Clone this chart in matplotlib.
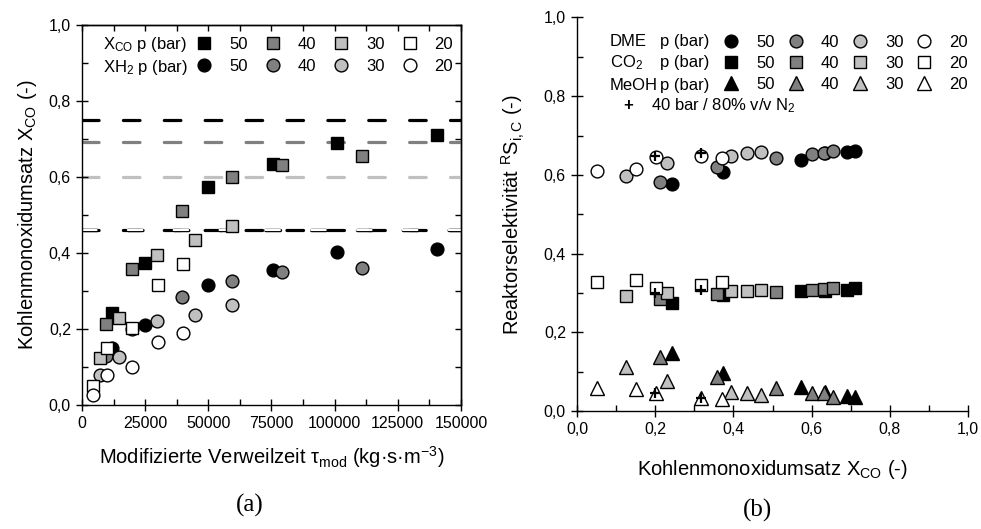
import matplotlib
matplotlib.use("Agg")
import matplotlib.pyplot as plt
import matplotlib.patheffects as pe
from matplotlib.lines import Line2D
from matplotlib.ticker import MultipleLocator, FuncFormatter

plt.rcParams.update({
    "font.family": ["Liberation Sans", "DejaVu Sans"],
    "mathtext.fontset": "custom",
    "mathtext.rm": "Liberation Sans",
    "mathtext.it": "Liberation Sans:italic",
    "mathtext.bf": "Liberation Sans:bold",
    "mathtext.default": "regular",
    "font.size": 11.5,
    "axes.linewidth": 1.0,
})

# ---------------- data ----------------
pressures = [50, 40, 30, 20]
fills = ["#000000", "#808080", "#c0c0c0", "#ffffff"]

# modified residence time (kg s m^-3)
tau_50 = [12000, 25000, 50000, 75600, 101000, 140500]
tau_40 = [9500, 19800, 39600, 59400, 79100, 110800]
tau_30 = [7100, 14600, 29600, 44700, 59400]
tau_20 = [4400, 9800, 19800, 30000, 40000]

# CO conversion
xco_50 = [0.242, 0.373, 0.574, 0.634, 0.690, 0.710]
xco_40 = [0.213, 0.358, 0.510, 0.600, 0.632, 0.655]
xco_30 = [0.124, 0.229, 0.395, 0.434, 0.471]
xco_20 = [0.050, 0.150, 0.203, 0.316, 0.370]

# H2 conversion
xh2_50 = [0.150, 0.210, 0.316, 0.355, 0.403, 0.410]
xh2_40 = [0.130, 0.200, 0.285, 0.326, 0.350, 0.360]
xh2_30 = [0.079, 0.127, 0.220, 0.237, 0.263]
xh2_20 = [0.026, 0.079, 0.100, 0.166, 0.190]

# equilibrium CO conversion
xco_eq = [0.75, 0.692, 0.60, 0.46]
eq_colors = ["#000000", "#808080", "#c0c0c0", "#000000"]

# reactor selectivities
dme_50 = [0.577, 0.607, 0.638, 0.655, 0.657, 0.660]
dme_40 = [0.582, 0.620, 0.643, 0.652, 0.656, 0.660]
dme_30 = [0.597, 0.630, 0.648, 0.656, 0.658]
dme_20 = [0.610, 0.615, 0.646, 0.648, 0.643]

co2_50 = [0.275, 0.295, 0.305, 0.305, 0.308, 0.313]
co2_40 = [0.285, 0.297, 0.302, 0.307, 0.310, 0.312]
co2_30 = [0.292, 0.300, 0.305, 0.305, 0.307]
co2_20 = [0.328, 0.333, 0.313, 0.320, 0.328]

meoh_50 = [0.147, 0.097, 0.060, 0.049, 0.038, 0.035]
meoh_40 = [0.137, 0.086, 0.058, 0.045, 0.046, 0.036]
meoh_30 = [0.112, 0.076, 0.048, 0.046, 0.041]
meoh_20 = [0.058, 0.056, 0.046, 0.033, 0.030]

# 40 bar with 80 % v/v N2
xco_n2 = [0.199, 0.316]
dme_n2 = [0.648, 0.656]
co2_n2 = [0.300, 0.307]
meoh_n2 = [0.046, 0.034]

taus = [tau_50, tau_40, tau_30, tau_20]
xcos = [xco_50, xco_40, xco_30, xco_20]
xh2s = [xh2_50, xh2_40, xh2_30, xh2_20]
dmes = [dme_50, dme_40, dme_30, dme_20]
co2s = [co2_50, co2_40, co2_30, co2_20]
meohs = [meoh_50, meoh_40, meoh_30, meoh_20]

MS = 9.2
MEW = 1.0
comma = FuncFormatter(lambda v, p: f"{v:.1f}".replace(".", ","))

fig = plt.figure(figsize=(9.81, 5.29), dpi=100)
axa = fig.add_axes([0.0836, 0.2344, 0.3863, 0.7183])
axb = fig.add_axes([0.5882, 0.2231, 0.3986, 0.7439])

# ---------------- panel (a) ----------------
dash_kw = dict(lw=2.3, dashes=(5.2, 7.6), dash_capstyle="round", zorder=1)
for y, c in zip(xco_eq[:3], eq_colors[:3]):
    axa.axhline(y, color=c, **dash_kw)
axa.axhline(xco_eq[3], color="#000000", **dash_kw)
axa.axhline(xco_eq[3], color="#ffffff", lw=1.5, dashes=(7.0, 15.0),
            dash_capstyle="round", zorder=1.5,
            path_effects=[pe.Stroke(linewidth=2.5, foreground="black"), pe.Normal()])

for t, xc, xh, f in zip(taus, xcos, xh2s, fills):
    axa.plot(t, xc, ls="none", marker="s", ms=MS * 0.95, mfc=f, mec="black",
             mew=MEW, zorder=3)
    axa.plot(t, xh, ls="none", marker="o", ms=MS, mfc=f, mec="black",
             mew=MEW, zorder=3)

axa.set_xlim(0, 150000)
axa.set_ylim(0, 1.0)
axa.xaxis.set_major_locator(MultipleLocator(25000))
axa.xaxis.set_minor_locator(MultipleLocator(12500))
axa.yaxis.set_major_locator(MultipleLocator(0.2))
axa.yaxis.set_minor_locator(MultipleLocator(0.1))
axa.yaxis.set_major_formatter(comma)
axa.tick_params(which="major", direction="inout", length=9, width=1.0)
axa.tick_params(which="minor", direction="in", length=4, width=1.0)

top = axa.secondary_xaxis("top")
top.xaxis.set_major_locator(MultipleLocator(25000))
top.xaxis.set_minor_locator(MultipleLocator(12500))
top.tick_params(which="both", direction="in", length=4, width=1.0, labeltop=False)
right = axa.secondary_yaxis("right")
right.yaxis.set_major_locator(MultipleLocator(0.2))
right.yaxis.set_minor_locator(MultipleLocator(0.1))
right.tick_params(which="both", direction="in", length=4, width=1.0, labelright=False)

axa.set_xlabel(r"Modifizierte Verweilzeit τ$_{mod}$ (kg·s·m$^{-3}$)", fontsize=14.5,
               labelpad=9)
axa.set_ylabel(r"Kohlenmonoxidumsatz X$_{CO}$ (-)", fontsize=14.5, labelpad=7)

# legend of panel (a)
axa.text(0.055, 0.950, r"X$_{CO}$ p (bar)", transform=axa.transAxes,
         ha="left", va="center", fontsize=12)
axa.text(0.055, 0.889, r"XH$_2$ p (bar)", transform=axa.transAxes,
         ha="left", va="center", fontsize=12)
handles_a, labels_a = [], []
for p, f in zip(pressures, fills):
    handles_a.append(Line2D([], [], ls="none", marker="s", ms=MS * 0.95, mfc=f,
                            mec="black", mew=MEW))
    labels_a.append(str(p))
    handles_a.append(Line2D([], [], ls="none", marker="o", ms=MS, mfc=f,
                            mec="black", mew=MEW))
    labels_a.append(str(p))
axa.legend(handles_a, labels_a, ncol=4, loc="center left",
           bbox_to_anchor=(0.300, 0.920), frameon=False, borderpad=0,
           handlelength=1.0, handletextpad=1.0, columnspacing=1.0,
           labelspacing=0.45, fontsize=12, borderaxespad=0)

# ---------------- panel (b) ----------------
for xc, d, f in zip(xcos, dmes, fills):
    axb.plot(xc, d, ls="none", marker="o", ms=MS, mfc=f, mec="black", mew=MEW, zorder=3)
for xc, c, f in zip(xcos, co2s, fills):
    axb.plot(xc, c, ls="none", marker="s", ms=MS * 0.95, mfc=f, mec="black", mew=MEW, zorder=3)
for xc, m, f in zip(xcos, meohs, fills):
    axb.plot(xc, m, ls="none", marker="^", ms=MS * 1.15, mfc=f, mec="black", mew=MEW, zorder=3)
for vals in (dme_n2, co2_n2, meoh_n2):
    axb.plot(xco_n2, vals, ls="none", marker="+", ms=7, mew=1.6, color="black", zorder=4)

axb.set_xlim(0, 1.0)
axb.set_ylim(0, 1.0)
for axis in (axb.xaxis, axb.yaxis):
    axis.set_major_locator(MultipleLocator(0.2))
    axis.set_minor_locator(MultipleLocator(0.1))
    axis.set_major_formatter(comma)
axb.spines["top"].set_visible(False)
axb.spines["right"].set_visible(False)
axb.tick_params(which="major", direction="inout", length=9, width=1.0)
axb.tick_params(which="minor", direction="in", length=4, width=1.0)
axb.set_xlabel(r"Kohlenmonoxidumsatz X$_{CO}$ (-)", fontsize=14.5, labelpad=15)
axb.set_ylabel(r"Reaktorselektivität ${}^{R}$S$_{i,C}$ (-)", fontsize=14.5, labelpad=12)

# legend of panel (b)
rows_b = [0.938, 0.885, 0.828]
for name, y in zip(["DME", r"CO$_2$", "MeOH"], rows_b):
    axb.text(0.084, y, name, transform=axb.transAxes, ha="left", va="center", fontsize=12)
    axb.text(0.212, y, "p (bar)", transform=axb.transAxes, ha="left", va="center", fontsize=12)
axb.text(0.130, 0.775, "+", transform=axb.transAxes, ha="center", va="center",
         fontsize=12, fontweight="bold")
axb.text(0.189, 0.775, r"40 bar / 80% v/v N$_2$", transform=axb.transAxes,
         ha="left", va="center", fontsize=12)
handles_b, labels_b = [], []
for p, f in zip(pressures, fills):
    for mk, s in (("o", MS), ("s", MS * 0.95), ("^", MS * 1.15)):
        handles_b.append(Line2D([], [], ls="none", marker=mk, ms=s, mfc=f,
                                mec="black", mew=MEW))
        labels_b.append(str(p))
axb.legend(handles_b, labels_b, ncol=4, loc="center left",
           bbox_to_anchor=(0.373, 0.883), frameon=False, borderpad=0,
           handlelength=1.0, handletextpad=1.0, columnspacing=0.75,
           labelspacing=0.35, fontsize=12, borderaxespad=0)

fig.text(250 / 981, 1 - 505 / 529, "(a)", family="Liberation Serif", fontsize=18,
         ha="center", va="center")
fig.text(757 / 981, 1 - 510 / 529, "(b)", family="Liberation Serif", fontsize=18,
         ha="center", va="center")

fig.savefig("out.png", dpi=100)
